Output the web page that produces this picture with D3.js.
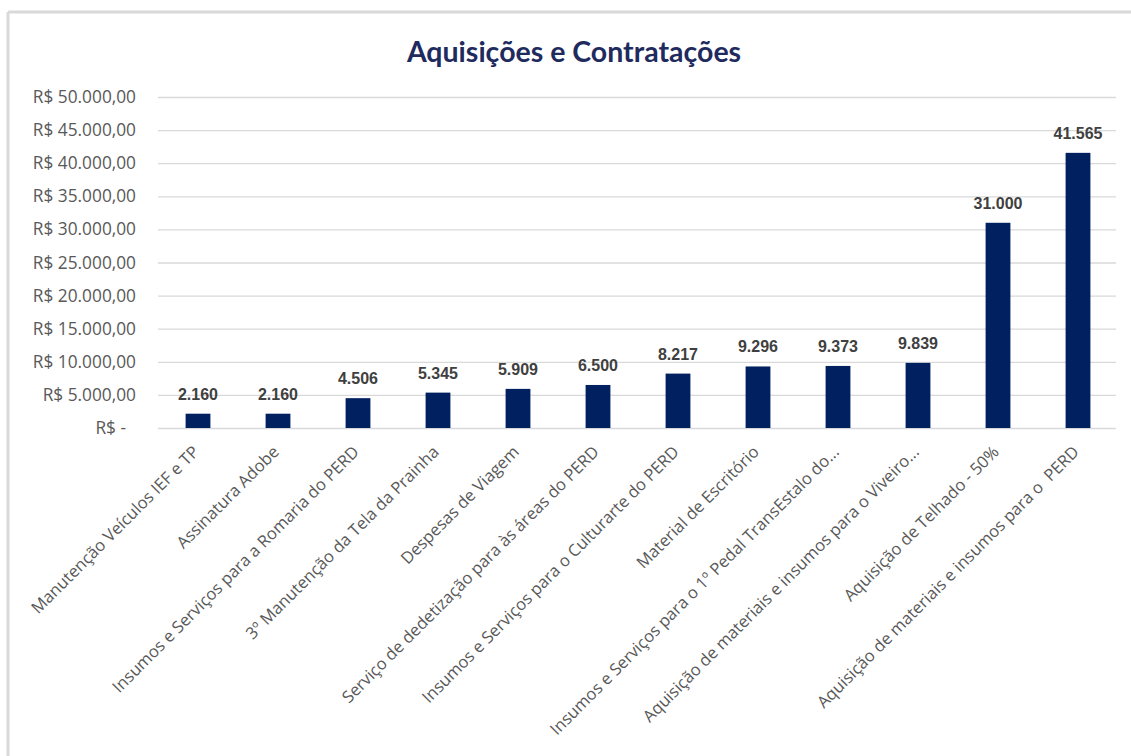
<!DOCTYPE html>
<html><head><meta charset="utf-8">
<script src="https://cdn.jsdelivr.net/npm/d3@7"></script>
<style>body{margin:0;background:#fff}svg{display:block}</style>
</head><body>
<svg id="c" width="1131" height="756"></svg>
<script>
const categories = [
  "Manutenção Veículos IEF e TP",
  "Assinatura Adobe",
  "Insumos e Serviços para a Romaria do PERD",
  "3º Manutenção da Tela da Prainha",
  "Despesas de Viagem",
  "Serviço de dedetização para às áreas do PERD",
  "Insumos e Serviços para o Culturarte do PERD",
  "Material de Escritório",
  "Insumos e Serviços para o 1º Pedal TransEstalo do...",
  "Aquisição de materiais e insumos para o Viveiro...",
  "Aquisição de Telhado - 50%",
  "Aquisição de materiais e insumos para o  PERD"
];
const values = [2160, 2160, 4506, 5345, 5909, 6500, 8217, 9296, 9373, 9839, 31000, 41565];
const valueLabels = ["2.160","2.160","4.506","5.345","5.909","6.500","8.217","9.296","9.373","9.839","31.000","41.565"];
const yTicks = [0,5000,10000,15000,20000,25000,30000,35000,40000,45000,50000];
const yTickLabels = ["R$ -","R$ 5.000,00","R$ 10.000,00","R$ 15.000,00","R$ 20.000,00","R$ 25.000,00","R$ 30.000,00","R$ 35.000,00","R$ 40.000,00","R$ 45.000,00","R$ 50.000,00"];
const title = "Aquisições e Contratações";

const svg = d3.select("#c");
// frame
svg.append("line").attr("x1",8).attr("x2",1131).attr("y1",12).attr("y2",12).attr("stroke","#d9d9d9").attr("stroke-width",3);
svg.append("line").attr("x1",8).attr("x2",8).attr("y1",12).attr("y2",756).attr("stroke","#d9d9d9").attr("stroke-width",3);

const x = d3.scaleBand().domain(categories).range([158,1118]).paddingInner(0.69).paddingOuter(0.345);
const y = d3.scaleLinear().domain([0,50000]).range([428,97]);

svg.append("text").attr("x",574).attr("y",62).attr("text-anchor","middle")
  .attr("font-family","Lato, 'Open Sans', sans-serif").attr("font-weight","bold").attr("font-size",28.5)
  .attr("fill","#1f2b5e").text(title);

// grid
const yAxis = d3.axisLeft(y).tickValues(yTicks).tickSize(-(1116-158)).tickFormat((d,i)=>yTickLabels[i]).tickPadding(22);
const gy = svg.append("g").attr("transform","translate(158,0)").call(yAxis);
gy.select(".domain").remove();
gy.selectAll(".tick line").attr("stroke","#d9d9d9").attr("stroke-width",1.3);
gy.selectAll(".tick text").attr("font-family","'Open Sans', Lato, sans-serif").attr("font-size",17.3).attr("fill","#595959")
  .attr("dx",(d)=>d===0?-10:0);

// bars
svg.append("g").selectAll("rect").data(values).join("rect")
  .attr("x",(d,i)=>x(categories[i])).attr("width",x.bandwidth())
  .attr("y",d=>y(d)).attr("height",d=>y(0)-y(d)).attr("fill","#002060");

svg.append("g").selectAll("text").data(values).join("text")
  .attr("x",(d,i)=>x(categories[i])+x.bandwidth()/2).attr("y",d=>y(d)-14)
  .attr("text-anchor","middle").attr("font-family","'Liberation Sans', Arial, sans-serif").attr("font-weight","bold")
  .attr("font-size",16).attr("fill","#404040").text((d,i)=>valueLabels[i]);

// x labels
const gx = svg.append("g").attr("transform","translate(0,428)")
  .call(d3.axisBottom(x).tickSize(0).tickPadding(0));
gx.select(".domain").remove();
gx.selectAll(".tick text").attr("text-anchor","end").attr("dy",0).attr("y",0)
  .attr("transform","translate(2,25) rotate(-45)")
  .attr("font-family","'Open Sans', Lato, sans-serif").attr("font-size",16.6).attr("fill","#595959")
  .style("white-space","pre");
</script>
</body></html>
